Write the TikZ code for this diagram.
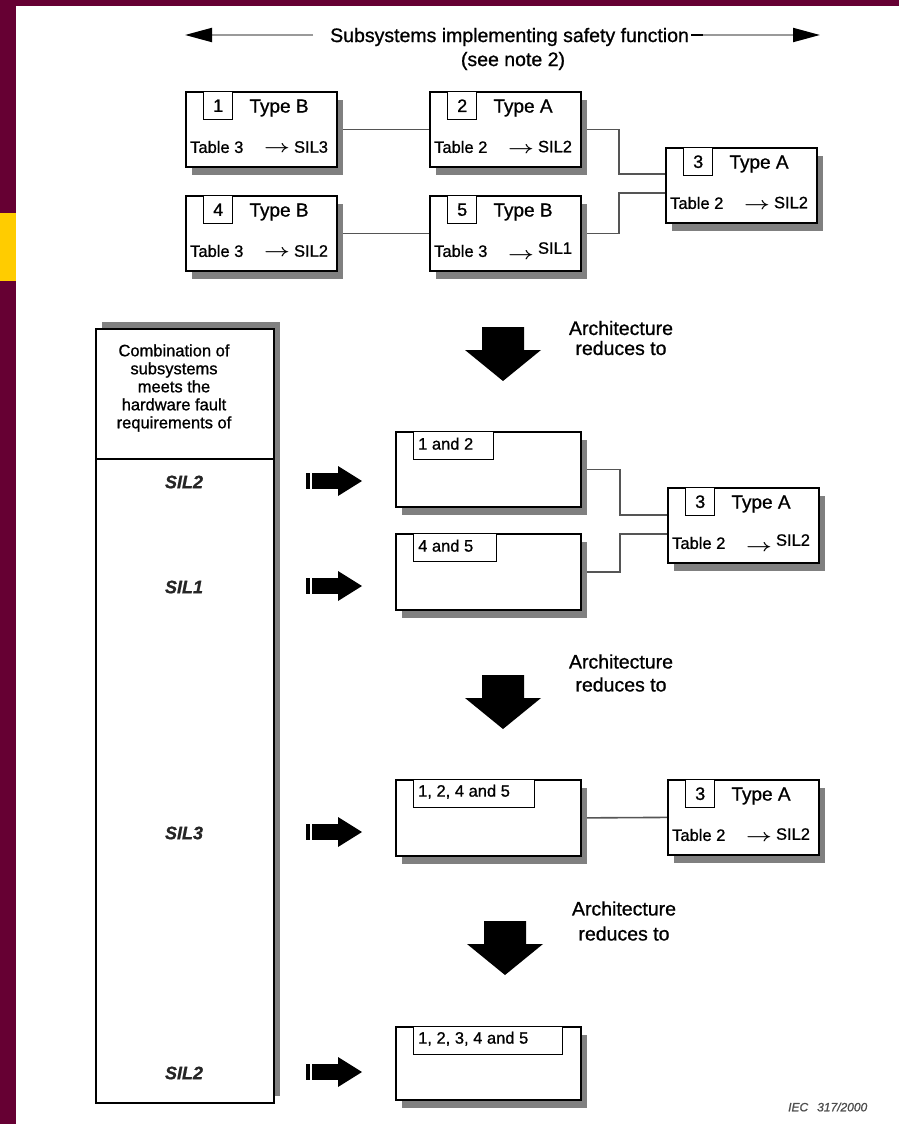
\documentclass[tikz,border=0pt]{standalone}
\usepackage{amsmath}
\usepackage{fontspec}
\setmainfont{Liberation Sans}[FakeBold=0.9]
\usetikzlibrary{shadows,arrows.meta,calc}

\definecolor{framemaroon}{HTML}{660033}
\definecolor{tabyellow}{HTML}{FFCC00}
\definecolor{shadegray}{HTML}{808080}
\definecolor{wiregray}{HTML}{555555}
\definecolor{spangray}{HTML}{9A9A9A}

\pgfdeclarelayer{pagefill}
\pgfdeclarelayer{wires}
\pgfsetlayers{pagefill,wires,main}

\newcommand{\setfsz}[1]{\fontsize{#1}{#1}\selectfont}

\tikzset{
  unitbox/.style={rectangle, draw=black, line width=1.8pt, fill=white, inner sep=0pt,
    anchor=north west, minimum width=151pt, minimum height=75pt,
    drop shadow={shadow xshift=6pt, shadow yshift=-8pt, fill=shadegray, opacity=1}},
  combobox/.style={unitbox, minimum width=185pt},
  numbox/.style={rectangle, draw=black, line width=1.4pt, fill=white, inner sep=0pt,
    anchor=north west, minimum width=29pt, minimum height=28pt, font=\setfsz{18}},
  tabbox/.style={rectangle, draw=black, line width=1.4pt, fill=white, inner sep=0pt,
    anchor=north west, minimum height=28pt},
  typetext/.style={inner sep=0pt, font=\setfsz{19}},
  tabletext/.style={inner sep=0pt, anchor=west, font=\setfsz{16.5}},
  reqbox/.style={rectangle, draw=black, line width=1.8pt, fill=white, inner sep=0pt,
    anchor=north west, minimum width=178pt, minimum height=774pt,
    drop shadow={shadow xshift=6pt, shadow yshift=7pt, fill=shadegray, opacity=1}},
  siltext/.style={inner sep=0pt, font=\setfsz{18}\bfseries\itshape, text=black!85},
  reducetext/.style={inner sep=0pt, align=center, font=\fontsize{19.5}{#1}\selectfont},
  wire/.style={draw=wiregray, line width=1.6pt},
  span/.style={draw=spangray, line width=2pt},
}

% a subsystem block: name, x, y, number, type, table, SIL, drop of the arrow
\newcommand{\subsysunit}[8]{%
  \node[unitbox] (#1) at (#2,#3) {};
  \node[numbox] (#1-num) at ($(#1.north west)+(18,0)$) {#4};
  \node[typetext] (#1-type) at ($(#1.north west)+(94,17)$) {Type #5};
  \node[tabletext] (#1-tab) at ($(#1.north west)+(5,56)$) {Table #6};
  \node[tabletext] (#1-sil) at ($(#1.north west)+(79,56)$)
    {\raisebox{-#8pt}{\scalebox{1.3}[1]{$\boldsymbol{\rightarrow}$}}\hspace{4pt}SIL#7};
}

% a combined block: name, x, y, height, tab width, label
\newcommand{\combounit}[6]{%
  \node[combobox, minimum height=#4pt] (#1) at (#2,#3) {};
  \node[tabbox, minimum width=#5pt] (#1-tab) at ($(#1.north west)+(18,0)$) {};
  \node[tabletext] (#1-lab) at ($(#1-tab.west)+(5,-2)$) {#6};
}

% block arrow from the requirement column: name, y
\newcommand{\pointer}[2]{%
  \coordinate (#1) at (306,#2);
  \fill ($(#1)+(0,-8)$) rectangle ($(#1)+(4,8)$);
  \fill ($(#1)+(6,-8)$) rectangle ($(#1)+(32,8)$);
  \fill ($(#1)+(32,-15)$) -- ($(#1)+(56,0)$) -- ($(#1)+(32,15)$) -- cycle;
}

% big downward arrow: x of its axis, y of its top
\newcommand{\reduction}[2]{%
  \fill (#1-21,#2) -- (#1+21,#2) -- (#1+21,#2+23) -- (#1+38,#2+23) -- (#1,#2+54)
        -- (#1-38,#2+23) -- (#1-21,#2+23) -- cycle;
}

\begin{document}
\begin{tikzpicture}[x=1pt, y=-1pt]
\useasboundingbox (0,0) rectangle (899,1124);

\begin{pgfonlayer}{pagefill}
  \fill[framemaroon] (0,0) rectangle (899,1124);
  \fill[white] (16,6) rectangle (899,1124);
  \fill[tabyellow] (0,213) rectangle (16,281);
\end{pgfonlayer}

% heading with its span arrows
\node[inner sep=0pt, anchor=west, font=\setfsz{19.5}] (title) at (330,37)
  {Subsystems implementing safety function};
\node[inner sep=0pt, font=\setfsz{19.5}] (note) at (513,61) {(see note 2)};
\coordinate (spanL) at (185,35);
\coordinate (spanR) at (820,35);
\coordinate (spanLs) at ($(title.west)+(-17,-2)$);
\coordinate (dashS) at ($(title.east)+(2,-2)$);
\coordinate (dashE) at ($(title.east)+(14,-2)$);
\draw[span, -{Triangle[length=27pt,width=14pt,black]}] (spanLs) -- (spanL);
\draw[black, line width=2pt] (dashS) -- (dashE);
\draw[span, -{Triangle[length=27pt,width=14pt,black]}] (dashE) -- (spanR);

% subsystems
\subsysunit{u1}{185}{91}{1}{B}{3}{3}{0}
\subsysunit{u2}{429}{91}{2}{A}{2}{2}{1}
\subsysunit{u3}{665}{147}{3}{A}{2}{2}{1}
\subsysunit{u4}{185}{195}{4}{B}{3}{2}{0}
\subsysunit{u5}{429}{195}{5}{B}{3}{1}{6}

\begin{pgfonlayer}{wires}
  \draw[wire] (u1.east) -- (u2.west);
  \draw[wire] (u4.east) -- (u5.west);
  \draw[wire] (u2.east) -- ++(37,0) |- ($(u3.north west)+(0,27)$);
  \draw[wire] (u5.east) -- ++(37,0) |- ($(u3.north west)+(0,46)$);
\end{pgfonlayer}

% requirement column
\node[reqbox] (req) at (95,328) {};
\draw[line width=1.8pt] ($(req.north west)+(0,131)$) -- ($(req.north east)+(0,131)$);
\node[inner sep=0pt, align=center, font=\fontsize{16.5}{18}\selectfont] (reqtext) at (174,388)
  {Combination of\\subsystems\\meets the\\hardware fault\\requirements of};
\node[siltext] (silA) at (184,482) {SIL2};
\node[siltext] (silB) at (184,587) {SIL1};
\node[siltext] (silC) at (184,833) {SIL3};
\node[siltext] (silD) at (184,1073) {SIL2};

\pointer{pA}{481}
\pointer{pB}{586}
\pointer{pC}{832}
\pointer{pD}{1072}

% reduction steps
\reduction{503}{327}
\node[reducetext=20] (redA) at (621,338) {Architecture\\reduces to};
\reduction{503}{675}
\node[reducetext=23] (redB) at (621,673) {Architecture\\reduces to};
\reduction{505}{921}
\node[reducetext=25] (redC) at (624,921) {Architecture\\reduces to};

% first reduction
\combounit{c12}{395}{431}{75}{80}{1 and 2}
\combounit{c45}{395}{533}{76}{83}{4 and 5}
\subsysunit{m3}{667}{487}{3}{A}{2}{2}{6}
\begin{pgfonlayer}{wires}
  \draw[wire] (c12.east) -- ++(38,0) |- ($(m3.north west)+(0,28)$);
  \draw[wire] (c45.east) -- ++(38,0) |- ($(m3.north west)+(0,47)$);
\end{pgfonlayer}

% second reduction
\combounit{c1245}{395}{779}{76}{121}{1, 2, 4 and 5}
\subsysunit{b3}{667}{779}{3}{A}{2}{2}{2}
\begin{pgfonlayer}{wires}
  \draw[wire] (c1245.east) -- (b3.west);
\end{pgfonlayer}

% third reduction
\combounit{call}{395}{1026}{73}{149}{1, 2, 3, 4 and 5}

\node[inner sep=0pt, anchor=west, font=\setfsz{12}\itshape, text=black!70] (iec) at (788,1107)
  {IEC\hspace{9pt}317/2000};
\end{tikzpicture}
\end{document}
